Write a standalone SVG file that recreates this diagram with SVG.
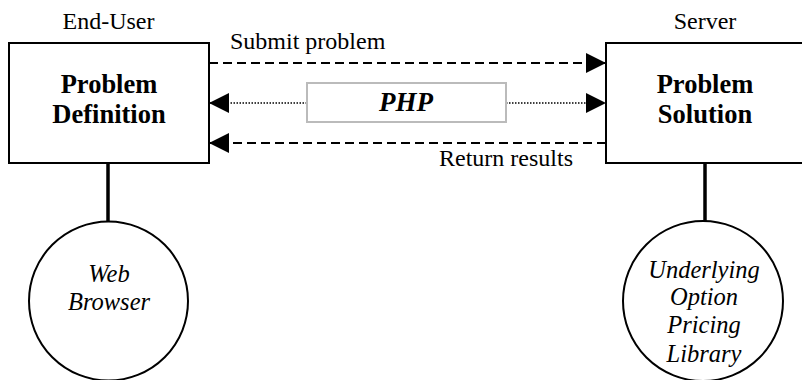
<svg xmlns="http://www.w3.org/2000/svg" width="802" height="380" viewBox="0 0 802 380">
<defs>
<marker id="ah" viewBox="0 0 20 20" refX="20" refY="10" markerWidth="20" markerHeight="20" markerUnits="userSpaceOnUse" orient="auto">
<path d="M0,0 L20,10 L0,20 Z" fill="#000"/>
</marker>
<style>
.box{fill:#fff;stroke:#000;stroke-width:2}
.circ{fill:#fff;stroke:#000;stroke-width:2}
.stem{stroke:#000;stroke-width:3.5}
.dash{stroke:#000;stroke-width:2;stroke-dasharray:9 5;fill:none}
.dot{stroke:#000;stroke-width:1.5;stroke-dasharray:1.5 1.5;fill:none}
.lbl{font-family:"Liberation Serif","Times New Roman",serif;font-size:24px;fill:#000}
.bold{font-family:"Liberation Serif","Times New Roman",serif;font-size:26.5px;font-weight:bold;fill:#000;text-anchor:middle}
.ital{font-family:"Liberation Serif","Times New Roman",serif;font-size:24.5px;font-style:italic;fill:#000;text-anchor:middle}
</style>
</defs>
<rect width="802" height="380" fill="#fff"/>
<g id="connectors">
<line class="stem" x1="108" y1="163" x2="108" y2="222"/>
<line class="stem" x1="705" y1="163" x2="705" y2="222"/>
<line class="dash" x1="209" y1="63" x2="606" y2="63" marker-end="url(#ah)"/>
<line class="dash" x1="606" y1="143" x2="209" y2="143" marker-end="url(#ah)"/>
<line class="dot" x1="307" y1="103" x2="209" y2="103" marker-end="url(#ah)"/>
<line class="dot" x1="506" y1="103" x2="606" y2="103" marker-end="url(#ah)"/>
<text class="lbl" x="230" y="49">Submit problem</text>
<text class="lbl" x="506" y="166" text-anchor="middle">Return results</text>
</g>
<g id="php">
<rect x="307" y="83" width="199" height="39" fill="#fff" stroke="#bbb" stroke-width="2"/>
<text x="406" y="111" font-family="Liberation Serif,Times New Roman,serif" font-size="27" font-weight="bold" font-style="italic" text-anchor="middle">PHP</text>
</g>
<g id="enduser">
<text class="lbl" x="108.5" y="29" text-anchor="middle">End-User</text>
<rect class="box" x="9" y="43" width="200" height="120"/>
<text class="bold" x="109" y="93">Problem</text>
<text class="bold" x="109" y="123">Definition</text>
</g>
<g id="server">
<text class="lbl" x="705" y="29" text-anchor="middle">Server</text>
<rect class="box" x="606" y="43" width="202" height="120"/>
<text class="bold" x="705" y="93">Problem</text>
<text class="bold" x="705" y="123">Solution</text>
</g>
<g id="browser">
<circle class="circ" cx="108.5" cy="301" r="79.5"/>
<text class="ital" x="109" y="282">Web</text>
<text class="ital" x="109" y="310">Browser</text>
</g>
<g id="library">
<circle class="circ" cx="703" cy="301" r="80"/>
<text class="ital" x="704" y="278">Underlying</text>
<text class="ital" x="704" y="305">Option</text>
<text class="ital" x="704" y="333">Pricing</text>
<text class="ital" x="704" y="362">Library</text>
</g>
</svg>
